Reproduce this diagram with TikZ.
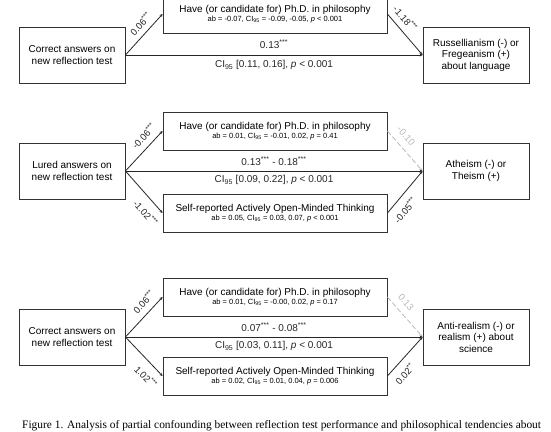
\documentclass[tikz,border=0pt]{standalone}
\usepackage{fontspec}
\setmainfont{Liberation Sans}
\newfontfamily\capfont{Liberation Serif}
\usetikzlibrary{arrows.meta}

\newcommand{\abline}[1]{{\fontsize{7.5}{8}\selectfont #1}}
\newcommand{\sig}[1]{\textsuperscript{#1}}
\newcommand{\ci}{CI\textsubscript{95}}

\begin{document}
\begin{tikzpicture}[
    x=1pt, y=-1pt,
    varbox/.style={
        rectangle,
        draw=black!80,
        line width=0.9pt,
        minimum width=106pt,
        minimum height=56pt,
        align=center,
        font=\fontsize{10}{11.5}\selectfont,
        inner sep=2pt
    },
    medbox/.style={
        rectangle,
        draw=black!80,
        line width=0.9pt,
        minimum width=224pt,
        minimum height=38pt,
        align=center,
        font=\fontsize{10}{11}\selectfont,
        inner sep=2pt
    },
    effect/.style={
        -{Stealth[length=3pt,width=3pt]},
        line width=0.8pt,
        black!85
    },
    nseffect/.style={
        effect,
        gray!55,
        dash pattern=on 5pt off 2.5pt
    },
    coef/.style={
        font=\fontsize{9.5}{9.5}\selectfont,
        sloped,
        inner sep=1pt
    },
    total/.style={
        font=\fontsize{10}{11}\selectfont,
        inner sep=2pt
    }
]
\useasboundingbox (0,0) rectangle (551,431);

% language
\node[varbox] (pred1) at (72,55) {Correct answers on\\new reflection test};
\node[varbox] (out1) at (476,55) {Russellianism (-) or\\Fregeanism (+)\\about language};
\node[medbox] (phd1) at (275,14) {Have (or candidate for) Ph.D. in philosophy\\[-2.5pt]
    \abline{ab = -0.07, \ci{} = -0.09, -0.05, \textit{p} < 0.001}};

\draw[effect] (pred1.east) -- node[coef, above=4pt, pos=0.6] {0.06\sig{***}} (phd1.west);
\draw[effect] (phd1.east) -- node[coef, above=5pt, pos=0.28] {-1.18\sig{***}} (out1.west);
\draw[effect] (pred1.east) -- node[total, above=4pt] {0.13\sig{***}}
    node[total, below=3pt] {\ci{} [0.11, 0.16], \textit{p} < 0.001} (out1.west);

% religion
\node[varbox] (pred2) at (72,171) {Lured answers on\\new reflection test};
\node[varbox] (out2) at (476,171) {Atheism (-) or\\Theism (+)};
\node[medbox] (phd2) at (275,131) {Have (or candidate for) Ph.D. in philosophy\\[-2.5pt]
    \abline{ab = 0.01, \ci{} = -0.01, 0.02, \textit{p} = 0.41}};
\node[medbox] (aot2) at (275,213) {Self-reported Actively Open-Minded Thinking\\[-2.5pt]
    \abline{ab = 0.05, \ci{} = 0.03, 0.07, \textit{p} < 0.001}};

\draw[effect] (pred2.east) -- node[coef, above=5pt, pos=0.7] {-0.06\sig{***}} (phd2.west);
\draw[nseffect] (phd2.east) -- node[coef, above=6pt, pos=0.3] {-0.10} (out2.west);
\draw[effect] (pred2.east) -- node[coef, below=7pt, pos=0.8] {-1.02\sig{***}} (aot2.west);
\draw[effect] (aot2.east) -- node[coef, below=6pt, pos=0.25] {-0.05\sig{***}} (out2.west);
\draw[effect] (pred2.east) -- node[total, above=3pt] {0.13\sig{***} - 0.18\sig{***}}
    node[total, below=2pt] {\ci{} [0.09, 0.22], \textit{p} < 0.001} (out2.west);

% science
\node[varbox] (pred3) at (72,337) {Correct answers on\\new reflection test};
\node[varbox] (out3) at (476,337) {Anti-realism (-) or\\realism (+) about\\science};
\node[medbox] (phd3) at (275,297) {Have (or candidate for) Ph.D. in philosophy\\[-2.5pt]
    \abline{ab = 0.01, \ci{} = -0.00, 0.02, \textit{p} = 0.17}};
\node[medbox] (aot3) at (275,376) {Self-reported Actively Open-Minded Thinking\\[-2.5pt]
    \abline{ab = 0.02, \ci{} = 0.01, 0.04, \textit{p} = 0.006}};

\draw[effect] (pred3.east) -- node[coef, above=5pt, pos=0.7] {0.06\sig{***}} (phd3.west);
\draw[nseffect] (phd3.east) -- node[coef, above=6pt, pos=0.3] {0.13} (out3.west);
\draw[effect] (pred3.east) -- node[coef, below=7pt, pos=0.8] {1.02\sig{***}} (aot3.west);
\draw[effect] (aot3.east) -- node[coef, below=6pt, pos=0.25] {0.02\sig{**}} (out3.west);
\draw[effect] (pred3.east) -- node[total, above=3pt] {0.07\sig{***} - 0.08\sig{***}}
    node[total, below=2pt] {\ci{} [0.03, 0.11], \textit{p} < 0.001} (out3.west);

\node[font=\capfont\fontsize{11.4}{13}\selectfont, anchor=base west, inner sep=0pt] (caption) at (22,428)
    {Figure 1. Analysis of partial confounding between reflection test performance and philosophical tendencies about};

\end{tikzpicture}
\end{document}
